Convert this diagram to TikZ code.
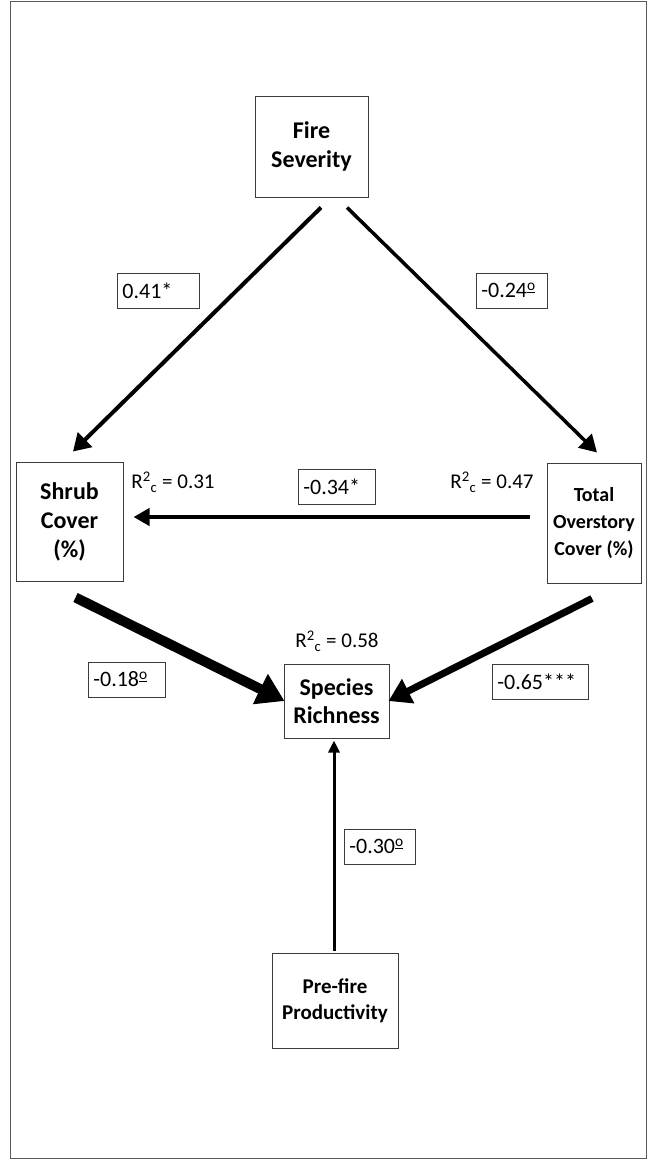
\documentclass[tikz,border=0pt]{standalone}
\usepackage{fontspec}
\setmainfont{Carlito}
\usepackage{tikz}
\usetikzlibrary{arrows.meta, positioning, calc}
\definecolor{FrameGray}{RGB}{90, 90, 90}
\definecolor{BoxGray}{RGB}{60, 60, 60}
\newcommand{\ordo}{\textsuperscript{\underline{o}}}

\tikzset{
    var/.style={draw=BoxGray, line width=1pt, align=center, inner sep=0pt, font=\bfseries\fontsize{24}{29}\selectfont},
    coef/.style={draw=BoxGray, line width=0.8pt, inner xsep=5pt, minimum height=35pt, align=left, anchor=west, font=\fontsize{22}{26}\selectfont},
    rsq/.style={font=\fontsize{21}{25}\selectfont},
    link/.style={draw=black}
}

\begin{document}
\begin{tikzpicture}[x=1pt, y=-1pt]
        \useasboundingbox (0,0) rectangle (647,1159);
        \draw[FrameGray, line width=0.8pt] (10,1) rectangle (646,1158);

        % Variables
        \node[var, minimum width=113pt, minimum height=101pt] (fire) at (311.5,146.5) {Fire\\Severity};
        \node[var, minimum width=107pt, minimum height=119pt] (shrub) at (69.5,521.5) {Shrub\\Cover\\(\%)};
        \node[var, minimum width=94pt, minimum height=120pt, font=\bfseries\fontsize{20}{27}\selectfont] (over) at (594,523) {Total\\Overstory\\Cover (\%)};
        \node[var, minimum width=105pt, minimum height=74pt, font=\bfseries\fontsize{24}{28}\selectfont] (rich) at (336.5,701) {Species\\Richness};
        \node[var, minimum width=126pt, minimum height=95pt, font=\bfseries\fontsize{21}{26}\selectfont] (prefire) at (335,1000.5) {Pre-fire\\Productivity};

        % Explained variance
        \node[rsq] (rshrub) at (173,482) {R\textsuperscript{2}\textsubscript{c} = 0.31};
        \node[rsq] (rover) at (492,482) {R\textsuperscript{2}\textsubscript{c} = 0.47};
        \node[rsq] (rrich) at (337,641) {R\textsuperscript{2}\textsubscript{c} = 0.58};

        % Paths
        \draw[link, line width=4pt, -{Triangle[length=17pt, width=20pt]}] ([xshift=9.5pt, yshift=-10pt]fire.south) -- ([xshift=3.5pt, yshift=10pt]shrub.north);
        \draw[link, line width=3.5pt, -{Triangle[length=17pt, width=19pt]}] ([xshift=35.5pt, yshift=-10pt]fire.south) -- ([xshift=3pt, yshift=10pt]over.north);
        \draw[link, line width=4pt, -{Triangle[length=16pt, width=17pt]}] ([xshift=-17pt, yshift=6pt]over.west) -- ([xshift=10pt, yshift=4.5pt]shrub.east);
        \draw[link, line width=10pt, -{Triangle[length=27pt, width=32pt]}] ([xshift=6pt, yshift=-16pt]shrub.south) -- ([xshift=1pt]rich.west);
        \draw[link, line width=7pt, -{Triangle[length=22pt, width=26pt]}] ([xshift=-2pt, yshift=-15pt]over.south) -- ([xshift=-1pt]rich.east);
        \draw[link, line width=3pt, -{Triangle[length=12pt, width=11pt]}] ([xshift=-1pt, yshift=2pt]prefire.north) -- ([xshift=-2.5pt, yshift=-2pt]rich.south);

        % Coefficients
        \foreach \name/\x/\y/\w/\val in {cfs/117/290.5/72/0.41*, cfo/476/290.5/61/-0.24\ordo, cos/298/487/67/-0.34*, csr/88/679.5/67/-0.18\ordo, cor/492/681.5/86/-0.65***, cpr/344/846.5/61/-0.30\ordo} {
            \node[coef, fill=white, text width=\w pt] (\name) at (\x,\y) {\val};
        }
    \end{tikzpicture}
\end{document}
